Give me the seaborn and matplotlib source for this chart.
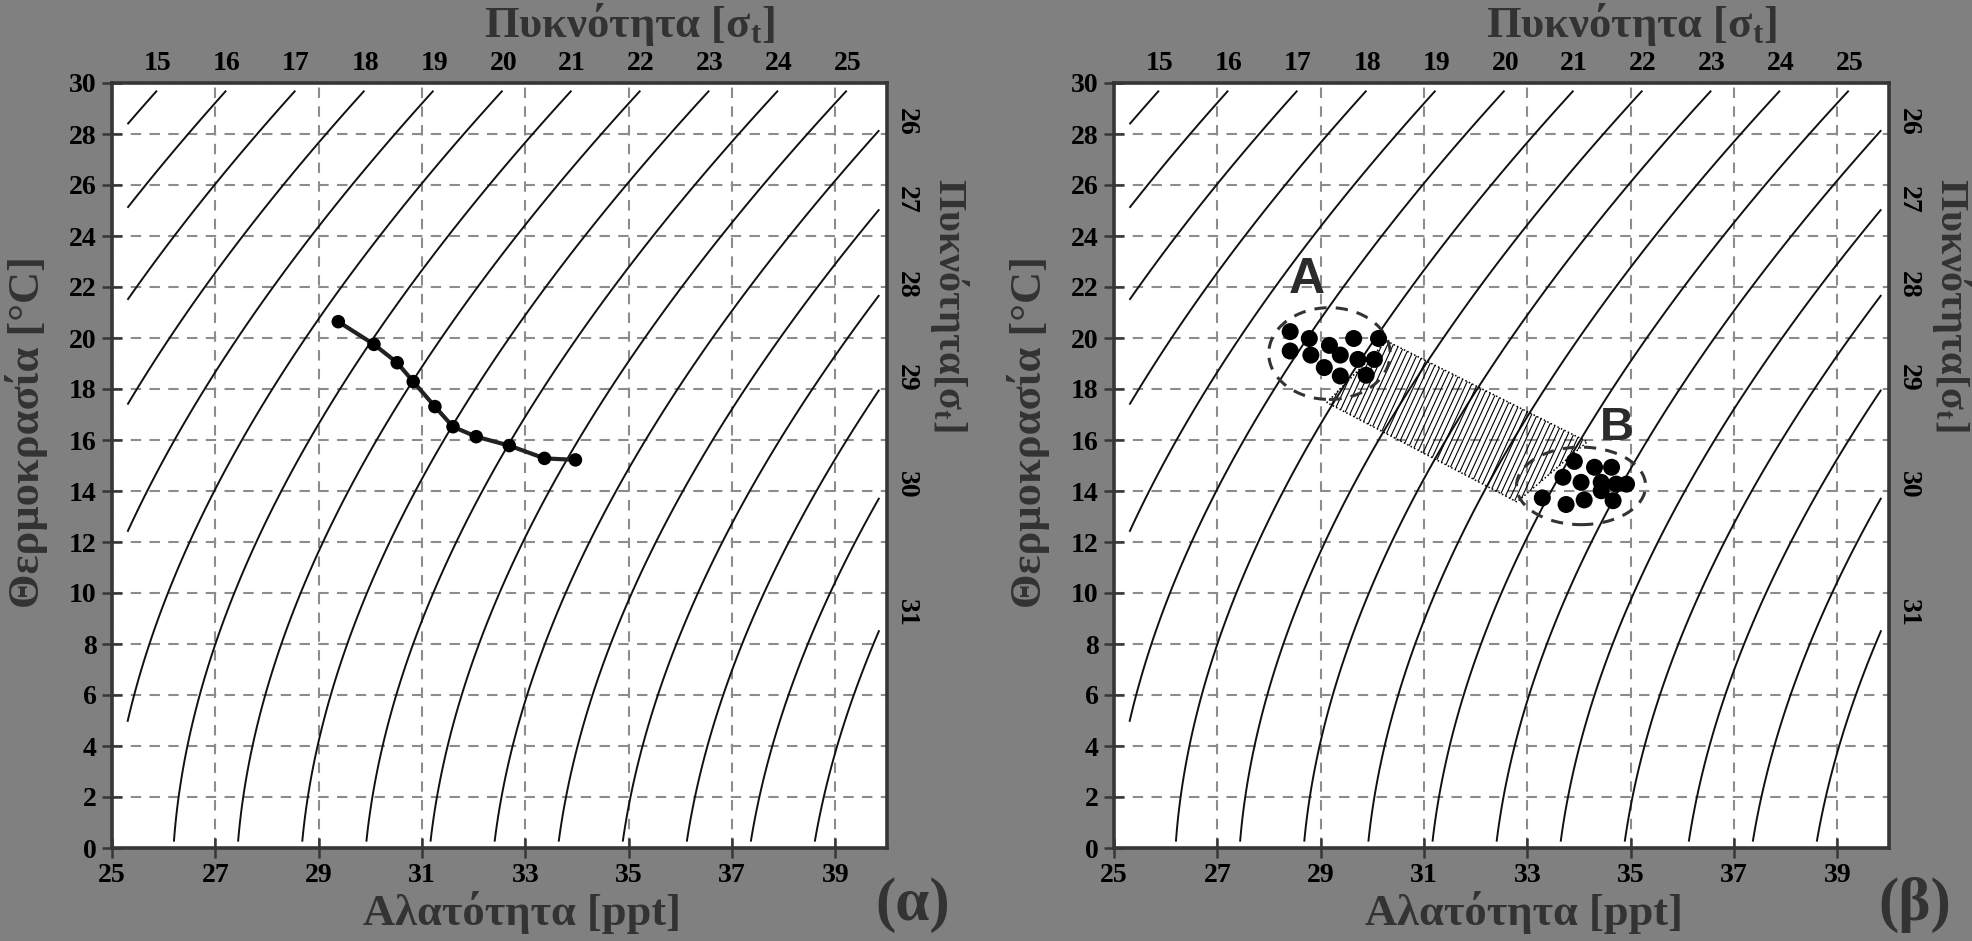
import numpy as np
import pandas as pd
import matplotlib
matplotlib.use("Agg")
import matplotlib.pyplot as plt
import seaborn as sns
from matplotlib.patches import Ellipse, Polygon
from matplotlib.collections import LineCollection

# ---------------- data ----------------
salinity_ticks = [25, 27, 29, 31, 33, 35, 37, 39]
temperature_ticks = list(range(0, 31, 2))
top_sigma_labels = [15, 16, 17, 18, 19, 20, 21, 22, 23, 24, 25]
right_sigma_labels = [26, 27, 28, 29, 30, 31]
isopycnal_levels = list(range(15, 32))

profile_S = [29.38, 30.07, 30.52, 30.83, 31.25, 31.60, 32.05, 32.69, 33.37, 33.97]
profile_T = [20.64, 19.75, 19.03, 18.29, 17.31, 16.52, 16.13, 15.78, 15.28, 15.22]

A_S = [28.41, 28.41, 28.78, 28.81, 29.17, 29.38, 29.07, 29.38, 29.64, 29.72, 29.88, 30.04, 30.12]
A_T = [20.25, 19.49, 19.98, 19.33, 19.71, 19.33, 18.84, 18.51, 19.98, 19.16, 18.54, 19.16, 19.98]
B_S = [33.91, 33.69, 34.30, 34.63, 34.04, 34.43, 34.43, 34.72, 34.92, 33.29, 33.75, 34.10, 34.66]
B_T = [15.16, 14.54, 14.93, 14.93, 14.34, 14.34, 14.01, 14.27, 14.27, 13.73, 13.47, 13.65, 13.62]

ellipse_A = (29.17, 19.39, 2.35, 3.60)   # centre S, centre T, width, height
ellipse_B = (34.04, 14.20, 2.50, 3.04)
band_S = [30.28, 34.16, 32.80, 29.12]
band_T = [19.88, 15.93, 13.57, 17.47]

# ---------------- helpers ----------------
def sigma_t(S, T):
    rho_w = (999.842594 + 6.793952e-2 * T - 9.095290e-3 * T**2 + 1.001685e-4 * T**3
             - 1.120083e-6 * T**4 + 6.536332e-9 * T**5)
    A = 8.24493e-1 - 4.0899e-3 * T + 7.6438e-5 * T**2 - 8.2467e-7 * T**3 + 5.3875e-9 * T**4
    B = -5.72466e-3 + 1.0227e-4 * T - 1.6546e-6 * T**2
    C = 4.8314e-4
    return rho_w + A * S + B * S**1.5 + C * S**2 - 1000.0

sns.set_theme(style="white")
plt.rcParams["font.family"] = ["Liberation Serif", "DejaVu Serif"]
plt.rcParams["font.weight"] = "bold"
plt.rcParams["mathtext.fontset"] = "custom"
plt.rcParams["mathtext.rm"] = "Liberation Serif:bold"
plt.rcParams["mathtext.it"] = "Liberation Serif:bold"
plt.rcParams["mathtext.bf"] = "Liberation Serif:bold"

W, H = 1972, 941
BG = "#808080"
fig = plt.figure(figsize=(W / 100, H / 100), dpi=100)
fig.patch.set_facecolor(BG)

TXT = "#333333"
SPINE = "#363636"
TICKSIZE = 20


def px(x, y):
    return x / W, 1 - y / H


def draw_base(left_px):
    x0, y0 = px(left_px, 848)
    ax = fig.add_axes([x0, y0, 775 / W, 765 / H])
    ax.set_facecolor("white")
    Sg = np.linspace(25.3, 39.85, 500)
    Tg = np.linspace(0.25, 29.7, 500)
    SS, TT = np.meshgrid(Sg, Tg)
    ax.contour(SS, TT, sigma_t(SS, TT), levels=isopycnal_levels,
               colors="#111111", linewidths=1.4, zorder=2)
    ax.set_xlim(25, 40)
    ax.set_ylim(0, 30)
    ax.set_xticks(salinity_ticks)
    ax.set_yticks(temperature_ticks)
    ax.set_axisbelow(True)
    ax.grid(True, color="#8c8c8c", linestyle=(0, (5, 4)), linewidth=1.5)
    ax.tick_params(direction="inout", length=14, width=1.8, color=SPINE,
                   labelsize=TICKSIZE, labelcolor="black", pad=4)
    for sp in ax.spines.values():
        sp.set_linewidth(2.6)
        sp.set_color(SPINE)
        sp.set_zorder(10)

    # top secondary scale: sigma-t along T = 30
    Sf = np.linspace(20, 45, 2501)
    top_pos = np.interp(top_sigma_labels, sigma_t(Sf, 30.0), Sf)
    axt = ax.twiny()
    axt.set_xlim(25, 40)
    axt.set_xticks(top_pos - 0.12, [str(v) for v in top_sigma_labels])
    axt.tick_params(length=0, labelsize=TICKSIZE, labelcolor="black", pad=5)
    for sp in axt.spines.values():
        sp.set_visible(False)
    axt.grid(False)

    # right secondary scale: sigma-t along S = 40
    Tf = np.linspace(-2, 35, 3701)
    sig = sigma_t(40.0, Tf)
    right_pos = np.interp(right_sigma_labels, sig[::-1], Tf[::-1])
    axr = ax.twinx()
    axr.set_ylim(0, 30)
    axr.set_yticks(right_pos, [str(v) for v in right_sigma_labels])
    axr.tick_params(length=0, labelsize=TICKSIZE, labelcolor="black", pad=5)
    for lab in axr.get_yticklabels():
        lab.set_rotation(-90)
        lab.set_va("center")
    for sp in axr.spines.values():
        sp.set_visible(False)
    axr.grid(False)
    return ax


def panel_texts(dx, tag):
    fig.text(*px(630 + dx, 25), "Πυκνότητα [σ$_{\\mathrm{t}}$]", ha="center", va="center",
             fontsize=32, color=TXT)
    fig.text(*px(522 + dx, 912), "Αλατότητα [ppt]", ha="center", va="center",
             fontsize=32, color=TXT)
    fig.text(*px(27 + dx, 432), "Θερμοκρασία [°C]", ha="center", va="center",
             fontsize=32, color=TXT, rotation=90)
    fig.text(*px(950 + dx, 305), "Πυκνότητα[σ$_{\\mathrm{t}}$]", ha="center", va="center",
             fontsize=29, color=TXT, rotation=-90)
    fig.text(*px(913 + dx, 905), tag, ha="center", va="center",
             fontsize=44, color=TXT)


# ---------------- panel (α) ----------------
ax1 = draw_base(112)
sns.lineplot(x=profile_S, y=profile_T, ax=ax1, color="#222222", linewidth=3,
             sort=False, zorder=5, legend=False)
sns.scatterplot(x=profile_S, y=profile_T, ax=ax1, s=95, color="black",
                edgecolor="none", zorder=6, legend=False)
ax1.set_xlabel("")
ax1.set_ylabel("")
panel_texts(0, "(α)")

# ---------------- panel (β) ----------------
ax2 = draw_base(1114)
band = Polygon(np.column_stack([band_S, band_T]), closed=True, fill=False,
               edgecolor="black", linestyle=(0, (1, 1.5)), linewidth=1.1, zorder=3)
ax2.add_patch(band)
slope = 4.4   # dT/dS of hatch lines in data units
c_lo = min(s - t / slope for s, t in zip(band_S, band_T))
c_hi = max(s - t / slope for s, t in zip(band_S, band_T))
t_lo, t_hi = min(band_T) - 0.5, max(band_T) + 0.5
segs = [[(c + t_lo / slope, t_lo), (c + t_hi / slope, t_hi)] for c in np.arange(c_lo, c_hi, 0.11)]
lc = LineCollection(segs, colors="black", linewidths=0.8, zorder=3)
ax2.add_collection(lc)
lc.set_clip_path(band)

for (cx, cy, w, h) in (ellipse_A, ellipse_B):
    ax2.add_patch(Ellipse((cx, cy), w, h, fill=False, edgecolor="#333333",
                          linestyle=(0, (4, 3)), linewidth=2.2, zorder=4))

sns.scatterplot(x=A_S, y=A_T, ax=ax2, s=150, color="black", edgecolor="none",
                zorder=6, legend=False)
sns.scatterplot(x=B_S, y=B_T, ax=ax2, s=150, color="black", edgecolor="none",
                zorder=6, legend=False)
ax2.text(28.73, 22.29, "A", ha="center", va="center", fontsize=36, color="#2b2b2b",
         family="Liberation Sans", fontweight="bold", zorder=7)
ax2.text(34.74, 16.49, "B", ha="center", va="center", fontsize=34, color="#2b2b2b",
         family="Liberation Sans", fontweight="bold", zorder=7)
ax2.set_xlabel("")
ax2.set_ylabel("")
panel_texts(1002, "(β)")

fig.savefig("out.png", dpi=100, facecolor=BG)
